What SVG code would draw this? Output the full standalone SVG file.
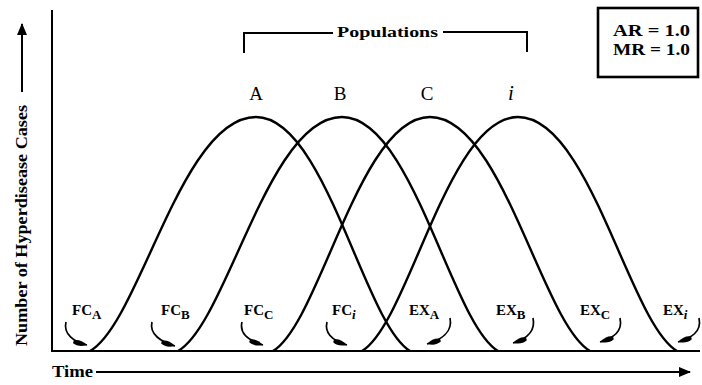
<svg xmlns="http://www.w3.org/2000/svg" width="702" height="385" viewBox="0 0 702 385">
<style>
.t{font-family:"Liberation Serif","DejaVu Serif",serif;fill:#000}
.b{font-weight:bold}
.ax{stroke:#000;stroke-width:2;fill:none}
.cv{stroke:#000;stroke-width:2.4;fill:none}
.ar{stroke:#000;stroke-width:1.7;fill:none;marker-end:url(#tear)}
.lbl{font-size:15px;font-weight:bold}
.sub{font-size:13px}
</style>
<defs>
<marker id="tear" markerUnits="userSpaceOnUse" markerWidth="16" markerHeight="10" viewBox="-5 -5 16 10" refX="10" refY="0" orient="auto">
<path d="M-4,-1.5 Q2,-4.5 10,0 Q2,4.5 -4,1.5 Z" fill="#000"/>
</marker>
<marker id="ah" markerUnits="userSpaceOnUse" markerWidth="12" markerHeight="12" viewBox="0 -6 12 12" refX="11" refY="0" orient="auto">
<path d="M0,-5 L12,0 L0,5 Z" fill="#000"/>
</marker>
</defs>

<g id="axes">
<line class="ax" x1="52" y1="10" x2="52" y2="352"/>
<line class="ax" x1="51" y1="351" x2="700" y2="351"/>
</g>

<g id="y-label">
<line class="ax" x1="22" y1="92" x2="22" y2="24" style="marker-end:url(#ah)"/>
<text class="t b" transform="translate(27,346) rotate(-90)" font-size="16" textLength="241" lengthAdjust="spacingAndGlyphs">Number of Hyperdisease Cases</text>
</g>

<g id="x-label">
<text class="t b" x="52" y="377" font-size="16" textLength="41" lengthAdjust="spacingAndGlyphs">Time</text>
<line class="ax" x1="96" y1="372" x2="690" y2="372" style="marker-end:url(#ah)"/>
</g>

<g id="populations">
<path class="ax" d="M244,53 V33 H333"/>
<text class="t b" x="337" y="37" font-size="15" textLength="101" lengthAdjust="spacingAndGlyphs">Populations</text>
<path class="ax" d="M443,32 H527 V52"/>
</g>

<g id="rates">
<rect x="598" y="8" width="100" height="69" fill="none" stroke="#000" stroke-width="2.6"/>
<text class="t b" x="613" y="36" font-size="16" textLength="77" lengthAdjust="spacingAndGlyphs">AR = 1.0</text>
<text class="t b" x="613" y="55" font-size="16" textLength="77" lengthAdjust="spacingAndGlyphs">MR = 1.0</text>
</g>

<g id="curve-A">
<path class="cv" d="M90,351 C139.8,322.9 181.3,117 256,117 C325.3,117 363.8,322.9 410,351"/>
<text class="t" x="256" y="100" font-size="19" text-anchor="middle">A</text>
</g>
<g id="curve-B">
<path class="cv" d="M178,351 C227.2,322.9 268.2,117 342,117 C412.2,117 451.2,322.9 498,351"/>
<text class="t" x="340" y="100" font-size="19" text-anchor="middle">B</text>
</g>
<g id="curve-C">
<path class="cv" d="M273,351 C320.1,322.9 359.4,117 430,117 C502,117 542,322.9 590,351"/>
<text class="t" x="427" y="100" font-size="19" text-anchor="middle">C</text>
</g>
<g id="curve-i">
<path class="cv" d="M362,351 C408.8,322.9 447.8,117 518,117 C589.6,117 629.3,322.9 677,351"/>
<text class="t" x="511" y="100" font-size="21" font-style="italic" text-anchor="middle">i</text>
</g>

<g id="FC_A"><text class="t lbl" x="72" y="315">FC<tspan class="sub" dy="4">A</tspan></text></g>
<g id="FC_B"><text class="t lbl" x="161" y="315">FC<tspan class="sub" dy="4">B</tspan></text></g>
<g id="FC_C"><text class="t lbl" x="244" y="315">FC<tspan class="sub" dy="4">C</tspan></text></g>
<g id="FC_i"><text class="t lbl" x="332" y="315">FC<tspan class="sub" dy="4" font-style="italic">i</tspan></text></g>
<g id="EX_A"><text class="t lbl" x="409" y="315">EX<tspan class="sub" dy="4">A</tspan></text></g>
<g id="EX_B"><text class="t lbl" x="496" y="315">EX<tspan class="sub" dy="4">B</tspan></text></g>
<g id="EX_C"><text class="t lbl" x="580" y="315">EX<tspan class="sub" dy="4">C</tspan></text></g>
<g id="EX_i"><text class="t lbl" x="663" y="315">EX<tspan class="sub" dy="4" font-style="italic">i</tspan></text></g>

<g id="connectors">
<path class="ar" d="M66,322 C63,334 74,342 87,345"/>
<path class="ar" d="M152,322 C149,334 161,342 175,346"/>
<path class="ar" d="M242,322 C239,334 250,341 263,345"/>
<path class="ar" d="M327,322 C324,334 334,341 347,345"/>
<path class="ar" d="M450,318 C453,332 441,340 427,344"/>
<path class="ar" d="M533,318 C536,332 526,339 513,343"/>
<path class="ar" d="M620,318 C623,332 613,338 600,342"/>
<path class="ar" d="M699,318 C702,332 691,338 678,342"/>
</g>
</svg>
